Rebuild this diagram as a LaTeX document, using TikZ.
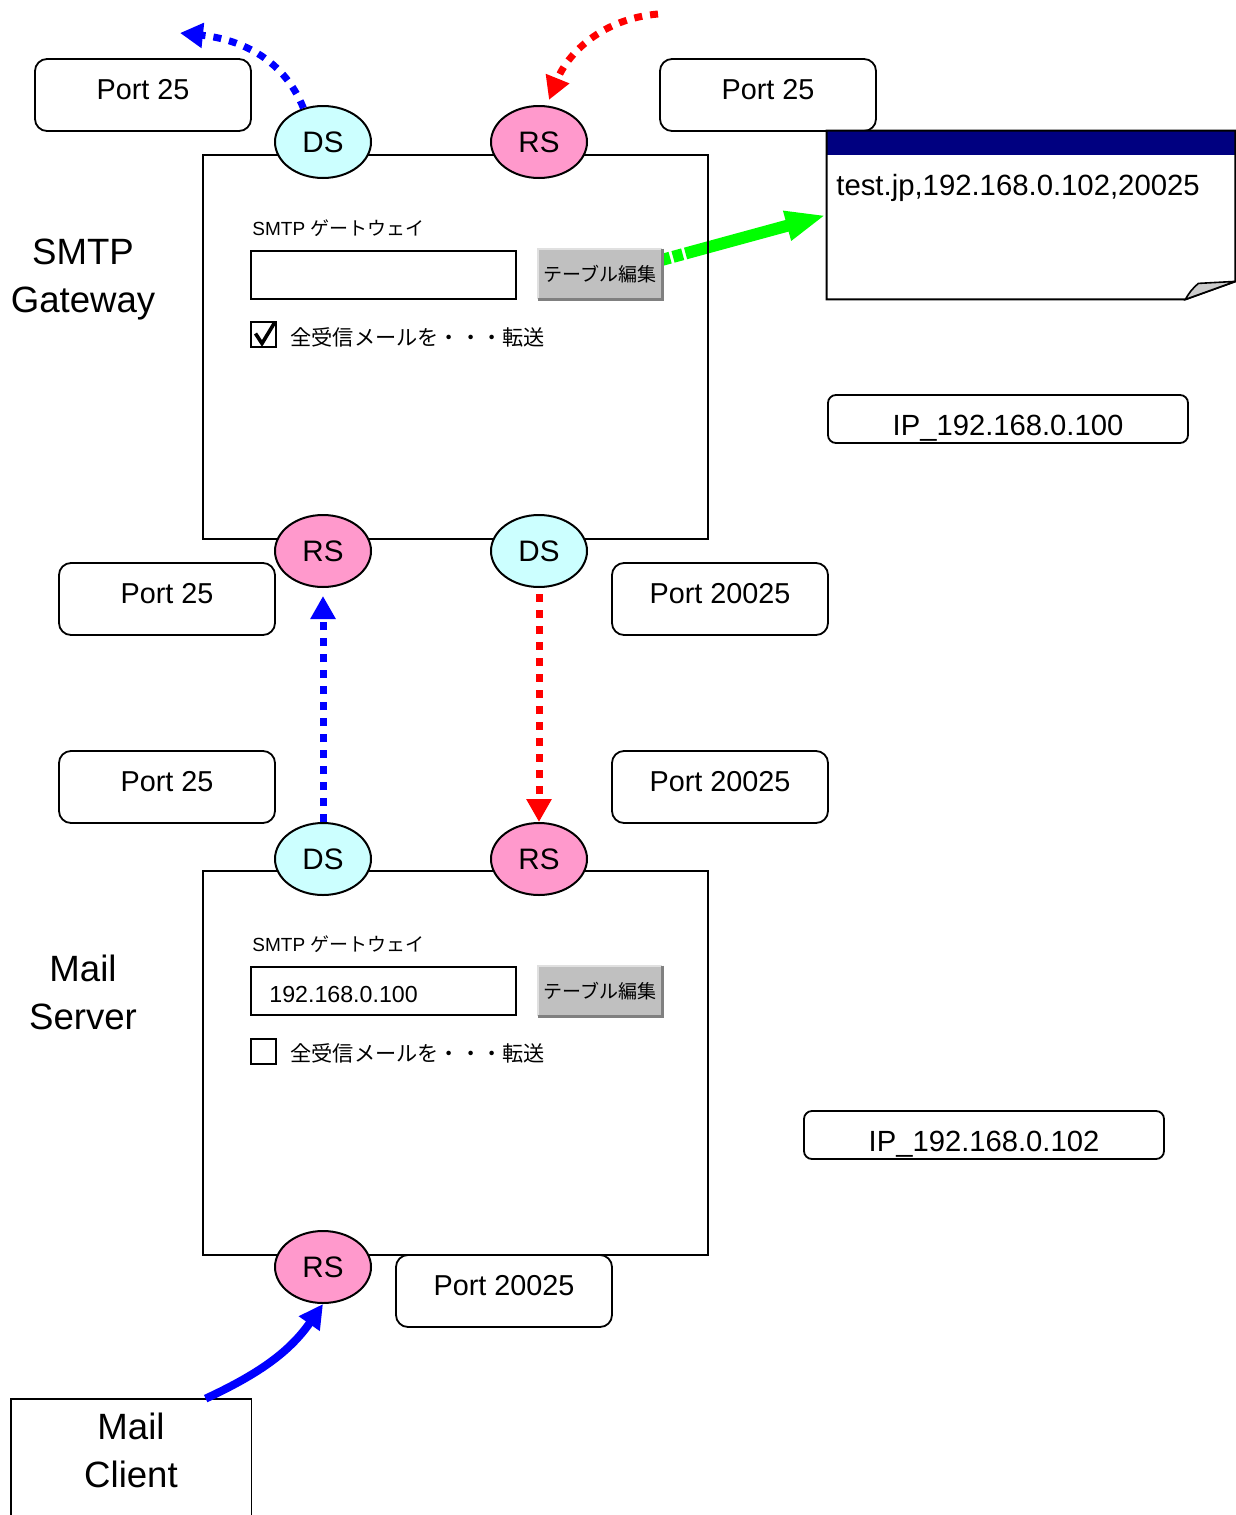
\documentclass[tikz,border=0pt]{standalone}
\usepackage{fontspec}
\setmainfont{Liberation Sans}
\newfontfamily\cjk{Noto Sans CJK JP}
\usetikzlibrary{arrows.meta, positioning, shapes.geometric, calc, backgrounds}
\definecolor{dscolor}{RGB}{204,255,255}
\definecolor{rscolor}{RGB}{255,153,204}
\definecolor{titlebar}{RGB}{0,0,128}
\definecolor{btngray}{RGB}{192,192,192}
\definecolor{btnshadow}{RGB}{128,128,128}
\definecolor{btnlight}{RGB}{224,224,224}
\definecolor{foldgray}{RGB}{204,204,204}
\definecolor{flowgreen}{RGB}{0,255,0}
\tikzset{
  frame/.style    = {draw, line width=1pt, minimum width=252.5pt, minimum height=192pt, inner sep=0pt},
  ds/.style       = {ellipse, draw, line width=1pt, fill=dscolor, minimum width=48pt, minimum height=36pt,
                     inner sep=0pt, font=\fontsize{14.8}{16}\selectfont},
  rs/.style       = {ds, fill=rscolor},
  port/.style     = {draw, line width=0.9pt, rounded corners=6pt, minimum width=108pt, minimum height=36pt,
                     inner sep=0pt, text height=11pt, text depth=7pt, font=\fontsize{14.4}{16}\selectfont},
  ipbox/.style    = {draw, line width=0.9pt, rounded corners=4pt, minimum width=180pt, minimum height=24pt,
                     inner sep=0pt, text height=16pt, text depth=0pt, font=\fontsize{14.6}{16}\selectfont},
  caption/.style  = {align=center, font=\fontsize{18.3}{24}\selectfont},
  formlabel/.style= {anchor=west, inner sep=0pt, font=\fontsize{9.5}{11}\selectfont},
  formtext/.style = {anchor=west, inner sep=0pt, font=\cjk\fontsize{10.6}{12}\selectfont},
  field/.style    = {draw, line width=1pt, minimum width=132.5pt, minimum height=24pt, inner sep=0pt},
  button/.style   = {fill=btngray, minimum width=62pt, minimum height=25pt, inner sep=0pt,
                     font=\cjk\fontsize{9.5}{10}\selectfont},
  chkbox/.style   = {draw, line width=1pt, minimum size=12.5pt, inner sep=0pt},
  dotflow/.style  = {line width=3.5pt, dash pattern=on 4pt off 4pt, -{Triangle[length=11.5pt,width=12pt]}},
  greenflow/.style= {flowgreen, line width=6pt, dash pattern=on 4pt off 1.5pt on 5pt off 1.5pt on 300pt,
                     -{Triangle[length=20pt,width=14pt]}},
}

\begin{document}
\begin{tikzpicture}[x=0.5pt, y=-0.5pt]
  \useasboundingbox (0,0) rectangle (1236,1515);
  \clip (0,0) rectangle (1236,1515);

  % SMTP gateway
  \node[frame] (gw) at (455.5,347) {};
  \node[caption] (gwcap) at (83,280) {SMTP\\Gateway};
  \node[ds] (dsg) at (323,142) {DS};
  \node[rs, right=59pt of dsg] (rsg) {RS};
  \node[rs] (rsgb) at (323,551) {RS};
  \node[ds, right=59pt of rsgb] (dsgb) {DS};
  \node[port] (pdsg) at (143,95) {Port 25};
  \node[port] (prsg) at (768,95) {Port 25};
  \node[port] (prsgb) at (167,599) {Port 25};
  \node[port] (pdsgb) at (720,599) {Port 20025};
  \node[formlabel] (gwlbl) at (252,228) {SMTP {\cjk ゲートウェイ}};
  \node[field] (gwfield) at (383.5,275) {};
  \node[button] (gwbtn) at (600,274) {テーブル編集};
  \draw[btnlight, line width=1pt] (gwbtn.south west) -- (gwbtn.north west) -- (gwbtn.north east);
  \draw[btnshadow, line width=1.5pt] (gwbtn.north east) -- (gwbtn.south east) -- (gwbtn.south west);
  \node[chkbox] (gwchk) at (263.5,334.5) {};
  \draw[line width=1.8pt] ($(gwchk.center)+(-8,-1)$) -- ($(gwchk.center)+(-1.5,9)$) -- ($(gwchk.center)+(11.5,-12.5)$);
  \node[formtext] (gwfwd) at (290,337) {全受信メールを・・・転送};
  \node[ipbox] (gwip) at (1008,419) {IP\_192.168.0.100};

  % forwarding table
  \node[minimum width=204pt, minimum height=84pt, inner sep=0pt] (note) at (1031,215) {};
  \fill[titlebar] (note.north west) rectangle ($(note.north east)+(0,24)$);
  \draw[line width=1pt] (note.north west) -- (note.north east) -- ($(note.south east)+(0,-18)$)
    -- ($(note.south east)+(-50,0)$) -- (note.south west) -- cycle;
  \draw[line width=0.8pt, fill=foldgray] ($(note.south east)+(-50,0)$) to[bend left=10] ($(note.south east)+(-37,-16)$)
    -- ($(note.south east)+(0,-18)$) -- cycle;
  \node[anchor=west, inner sep=0pt, font=\fontsize{14.65}{16}\selectfont] (notetext) at (836,188)
    {test.jp,192.168.0.102,20025};

  % mail server
  \node[frame] (srv) at (455.5,1063) {};
  \node[caption] (srvcap) at (83,992) {Mail\\Server};
  \node[ds] (dss) at (323,859) {DS};
  \node[rs, right=59pt of dss] (rss) {RS};
  \node[rs] (rsc) at (323,1267) {RS};
  \node[port] (pdss) at (167,787) {Port 25};
  \node[port] (prss) at (720,787) {Port 20025};
  \node[port] (prsc) at (504,1291) {Port 20025};
  \node[formlabel] (srvlbl) at (252,944) {SMTP {\cjk ゲートウェイ}};
  \node[field] (srvfield) at (383.5,991) {};
  \node[anchor=west, inner sep=0pt, font=\fontsize{11.6}{13}\selectfont] (srvgw) at (269,995) {192.168.0.100};
  \node[button] (srvbtn) at (600,991) {テーブル編集};
  \draw[btnlight, line width=1pt] (srvbtn.south west) -- (srvbtn.north west) -- (srvbtn.north east);
  \draw[btnshadow, line width=1.5pt] (srvbtn.north east) -- (srvbtn.south east) -- (srvbtn.south west);
  \node[chkbox] (srvchk) at (263.5,1051.5) {};
  \node[formtext] (srvfwd) at (290,1053) {全受信メールを・・・転送};
  \node[ipbox] (srvip) at (984,1135) {IP\_192.168.0.102};

  % mail client
  \node[caption, minimum width=120pt, minimum height=51pt, inner sep=0pt] (client) at (131,1450) {Mail\\Client};
  \draw[line width=0.9pt] ($(client.north west)+(0,130)$) -- (client.north west) -- (client.north east)
    -- ($(client.north east)+(0,130)$);

  % mail flow
  \coordinate (dsgout) at (180,33);
  \coordinate (rsgin) at (658,14);
  \coordinate (clientout) at ($(client.north west)!0.81!(client.north east)$);
  \draw[dotflow, blue] (dsg.120) to[out=112, in=-6] (dsgout);
  \draw[dotflow, red, shorten >=3pt] (rsgin) to[out=185, in=68] (rsg.78);
  \draw[dotflow, blue, shorten >=4pt] (dss.north) -- (rsgb.south);
  \draw[dotflow, red, shorten <=3pt] (dsgb.south) -- (rss.north);
  \draw[blue, line width=4pt, -{Triangle[length=12pt,width=12pt]}] (clientout) to[out=25, in=235] (rsc.south);
  \begin{scope}[on background layer]
    \draw[greenflow, shorten >=0.5pt] ($(gwbtn.north east)!0.22!(gwbtn.south east)$) -- (note.west);
  \end{scope}
\end{tikzpicture}
\end{document}
